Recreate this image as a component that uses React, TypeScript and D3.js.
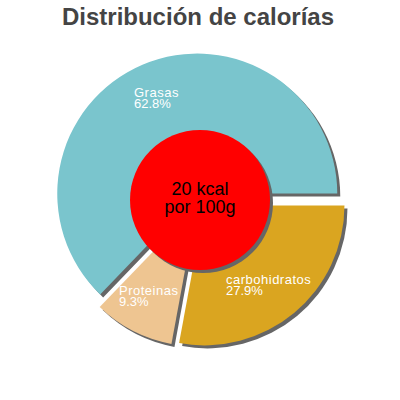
import { useRef, useEffect } from 'react';
import * as d3 from 'd3';

const title = 'Distribución de calorías';
const categories = ['carbohidratos', 'Proteinas', 'Grasas'];
const values = [27.9, 9.3, 62.8];
const colors = ['#DAA520', '#EEC591', '#7AC5CD'];
const centerLines = ['20 kcal', 'por 100g'];

export default function App() {
  const ref = useRef<SVGSVGElement>(null);

  useEffect(() => {
    if (!ref.current) return;
    drawChart(ref.current);
  }, []);

  return (
    <svg
      ref={ref}
      width={400}
      height={400}
      style={{ position: 'absolute', left: 0, top: 0, display: 'block', background: '#fff' }}
    />
  );
}

function drawChart(el: SVGSVGElement) {
  const svg = d3.select(el);
  svg.selectAll('*').remove();

  const cx = 200;
  const cy = 200;
  const outer = 140;
  const inner = 70;
  const explode = 7;
  const shadow = 3;

  const data = categories.map((name, i) => ({ name, value: values[i], color: colors[i] }));

  const pie = d3.pie<{ name: string; value: number; color: string }>()
    .sort(null)
    .value((d) => d.value)
    .startAngle(Math.PI / 2)
    .endAngle(Math.PI / 2 + Math.PI * 2);

  const arc = d3.arc<d3.PieArcDatum<{ name: string; value: number; color: string }>>()
    .innerRadius(0)
    .outerRadius(outer);

  const arcs = pie(data);

  const offset = (d: d3.PieArcDatum<any>) => {
    const mid = (d.startAngle + d.endAngle) / 2;
    return [Math.sin(mid) * explode, -Math.cos(mid) * explode];
  };

  svg.append('text')
    .attr('x', 198)
    .attr('y', 25)
    .attr('text-anchor', 'middle')
    .style('font-family', '"Liberation Sans", Arial, sans-serif')
    .style('font-size', '24px')
    .style('font-weight', 'bold')
    .style('fill', '#444')
    .text(title);

  const g = svg.append('g').attr('transform', `translate(${cx},${cy})`);

  // shadows first
  g.selectAll('.shadow')
    .data(arcs)
    .enter()
    .append('path')
    .attr('class', 'shadow')
    .attr('d', arc as any)
    .attr('transform', (d) => {
      const [dx, dy] = offset(d);
      return `translate(${dx + shadow},${dy + shadow})`;
    })
    .attr('fill', '#666');

  g.selectAll('.slice')
    .data(arcs)
    .enter()
    .append('path')
    .attr('class', 'slice')
    .attr('d', arc as any)
    .attr('transform', (d) => {
      const [dx, dy] = offset(d);
      return `translate(${dx},${dy})`;
    })
    .attr('fill', (d) => d.data.color);

  g.append('circle')
    .attr('cx', shadow)
    .attr('cy', shadow)
    .attr('r', inner)
    .attr('fill', '#666');
  g.append('circle')
    .attr('r', inner)
    .attr('fill', '#FF0000');

  const center = g.append('text')
    .attr('text-anchor', 'middle')
    .style('font-family', '"Liberation Sans", Arial, sans-serif')
    .style('font-size', '18px')
    .style('fill', '#000');
  centerLines.forEach((line, i) => {
    center.append('tspan').attr('x', 0).attr('y', -5 + i * 18).text(line);
  });

  // slice labels, top-left anchored inside each slice
  const anchors: Record<string, [number, number]> = {
    carbohidratos: [26, 84],
    Proteinas: [-81, 95],
    Grasas: [-66, -103],
  };

  const labels = g.selectAll('.label')
    .data(arcs)
    .enter()
    .append('text')
    .attr('class', 'label')
    .style('font-family', '"Liberation Sans", Arial, sans-serif')
    .style('font-size', '13px')
    .style('fill', '#fff');

  labels.each(function (d) {
    const [x, y] = anchors[d.data.name];
    const t = d3.select(this);
    t.append('tspan').attr('x', x).attr('y', y).style('letter-spacing', '0.5px').text(d.data.name);
    t.append('tspan').attr('x', x).attr('y', y + 11).text(`${d.data.value}%`);
  });
}
